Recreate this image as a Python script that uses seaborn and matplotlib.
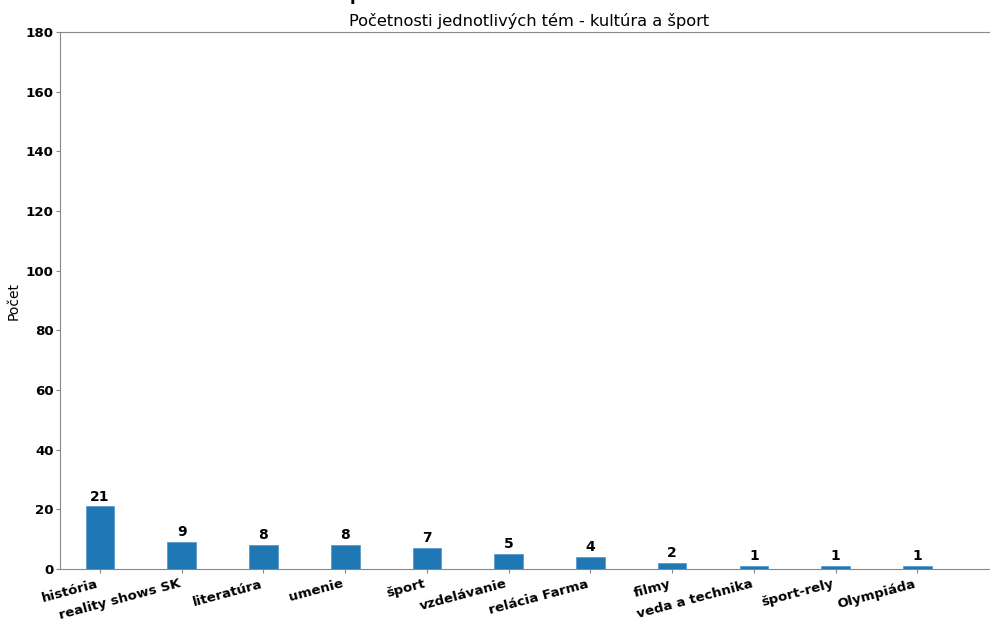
import matplotlib
matplotlib.use("Agg")
import matplotlib.pyplot as plt
import seaborn as sns
import pandas as pd

plt.rcParams["font.family"] = ["DejaVu Sans"]

# %% Data
temy = ["história", "reality shows SK", "literatúra", "umenie", "šport",
        "vzdelávanie", "relácia Farma", "filmy", "veda a technika",
        "šport-rely", "Olympiáda"]
pocty = [21, 9, 8, 8, 7, 5, 4, 2, 1, 1, 1]

df = pd.DataFrame({"tema": temy, "pocet": pocty})

# %% Plot
fig = plt.figure(figsize=(9.9, 6.19), dpi=100)
ax = fig.add_axes([60 / 990, 50 / 619, 939 / 990, 537 / 619])

sns.barplot(df, x="tema", y="pocet", color="#1f77b4", saturation=1,
            width=0.35, ax=ax, edgecolor="#5a9bd0", linewidth=0.6)
ax.bar_label(ax.containers[0], fontsize=10, fontweight="bold", padding=2)

ax.set_xlim(-0.49, 11.0)
ax.set_ylim(0, 180)
ax.set_yticks(range(0, 181, 20))
ax.set_xlabel("")
ax.set_ylabel("Počet", fontsize=10, labelpad=4)
ax.set_title("Početnosti jednotlivých tém - kultúra a šport", fontsize=11.7, pad=4)

for sp in ["left", "bottom", "top"]:
    ax.spines[sp].set_color("#888888")
ax.spines["right"].set_visible(False)
ax.tick_params(colors="#888888", labelcolor="black", length=3)
ax.tick_params(axis="y", pad=1.5)
ax.tick_params(axis="x", pad=3)

for lab in ax.get_yticklabels():
    lab.set_fontweight("bold")
    lab.set_fontsize(9.6)
for lab in ax.get_xticklabels():
    lab.set_rotation(15)
    lab.set_ha("right")
    lab.set_fontweight("bold")
    lab.set_fontsize(9.6)

# clipped heading above the figure
fig.text(350 / 990, 1.0, "p", fontsize=12, fontweight="bold",
         va="baseline", ha="left")

fig.savefig("out.png", dpi=100)
